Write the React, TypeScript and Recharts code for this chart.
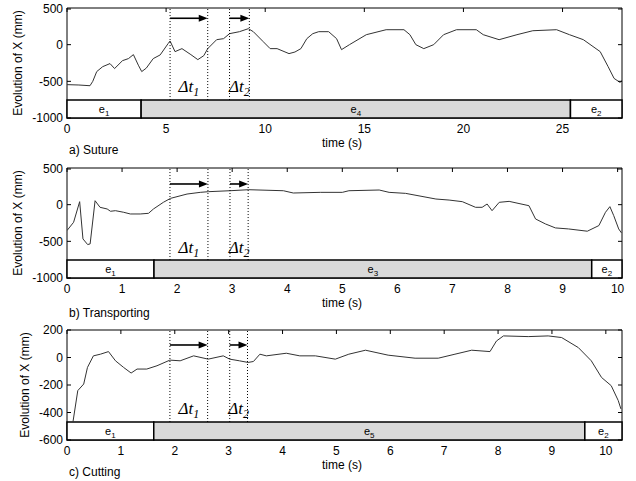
import { Line, LineChart, ReferenceArea, ReferenceDot, ReferenceLine, XAxis, YAxis } from "recharts";

// a) Suture
const timeA = [0, 0.6, 1.16, 1.3, 1.5, 1.8, 2.17, 2.4, 2.8, 3.1, 3.35, 3.6, 3.77, 4.0, 4.35, 4.7, 5.1, 5.2, 5.45, 5.8, 6.25, 6.6, 6.9, 7.1, 7.55, 7.9, 8.2, 8.7, 9.15, 9.4, 9.9, 10.25, 10.6, 11.2, 11.5, 11.8, 12.1, 12.4, 12.7, 13.2, 13.6, 13.85, 14.25, 15.1, 16.1, 17.0, 17.3, 17.6, 18.0, 18.5, 19.0, 19.65, 20.65, 21.0, 21.8, 22.7, 23.5, 24.7, 25.35, 26.05, 26.9, 27.3, 27.6, 27.9, 28];
const posA = [-545, -550, -560, -500, -367, -300, -258, -326, -218, -190, -136, -280, -367, -320, -190, -140, 14, 50, -95, -54, -136, -204, -150, -54, 68, 82, 150, 177, 218, 177, 41, -54, -54, -122, -100, -54, 82, 150, 177, 177, 82, -68, 0, 136, 204, 204, 136, 0, -54, 0, 136, 204, 204, 136, 68, 136, 190, 204, 136, 68, -95, -300, -460, -515, -490];
const phasesA = ["1", "4", "2"];
const phaseEdgesA = [0, 3.74, 25.4, 28];
const dtEdgesA = [5.2, 7.1, 8.2, 9.2];
const xTicksA = [0, 5, 10, 15, 20, 25];

// b) Transporting
const timeB = [0, 0.12, 0.23, 0.29, 0.375, 0.42, 0.51, 0.6, 0.73, 0.79, 0.88, 1.03, 1.15, 1.33, 1.48, 1.57, 1.75, 1.88, 2.18, 2.42, 2.57, 2.96, 3.3, 3.93, 4.11, 4.6, 5.0, 5.12, 5.67, 5.85, 6.15, 6.7, 6.94, 7.18, 7.42, 7.54, 7.63, 7.72, 7.85, 8.03, 8.39, 8.51, 8.69, 8.87, 9.11, 9.45, 9.66, 9.78, 9.86, 9.93, 10.02, 10.07];
const posB = [-353, -240, 41, -467, -544, -535, 54, -36, -59, -90, -82, -104, -127, -127, -118, -59, 32, 86, 145, 168, 177, 190, 204, 190, 159, 168, 168, 190, 200, 168, 154, 77, 63, 41, -36, -36, 9, -82, 32, 45, -14, -195, -263, -317, -331, -362, -285, -104, -27, -150, -331, -385];
const phasesB = ["1", "3", "2"];
const phaseEdgesB = [0, 1.58, 9.53, 10.08];
const dtEdgesB = [1.87, 2.56, 2.96, 3.29];
const xTicksB = [0, 1, 2, 3, 4, 5, 6, 7, 8, 9, 10];

// c) Cutting
const timeC = [0.11, 0.2, 0.31, 0.38, 0.49, 0.62, 0.77, 0.9, 1.05, 1.19, 1.3, 1.48, 1.67, 1.91, 2.1, 2.35, 2.62, 2.9, 3.02, 3.2, 3.36, 3.46, 3.58, 3.7, 4.07, 4.32, 4.61, 4.98, 5.23, 5.54, 5.96, 6.46, 6.89, 7.2, 7.51, 7.85, 7.97, 8.1, 8.56, 8.93, 9.18, 9.49, 9.73, 9.92, 10.1, 10.23, 10.28];
const posC = [-470, -241, -193, -72, 12, 24, 43, -24, -72, -113, -84, -84, -60, -19, -24, 12, -12, 12, -12, -24, -36, -29, 24, 12, 31, 12, 12, -12, 24, 53, 17, -5, -5, 24, 53, 43, 120, 157, 152, 157, 145, 72, -24, -145, -205, -313, -374];
const phasesC = ["1", "5", "2"];
const phaseEdgesC = [0, 1.61, 9.61, 10.3];
const dtEdgesC = [1.91, 2.61, 3.02, 3.35];
const xTicksC = [0, 1, 2, 3, 4, 5, 6, 7, 8, 9, 10];

const yTicksAB = [-1000, -500, 0, 500];
const yTicksC = [-600, -400, -200, 0, 200];

const FONT = "Arial, 'Liberation Sans', sans-serif";
const SERIF = "'Times New Roman', 'Liberation Serif', serif";
const PLOT_L = 67;
const PLOT_R = 622;

type PanelProps = {
  top: number;
  height: number;
  plotTop: number;
  time: number[];
  pos: number[];
  phases: string[];
  edges: number[];
  dt: number[];
  xTicks: number[];
  yTicks: number[];
  yDomain: [number, number];
  barTop: number;
  arrowY: number;
  labelY: number;
  title: string;
  titleGap: number;
  yLabelX: number;
};

function Panel(p: PanelProps) {
  const data = p.time.map((t, i) => ({ t, x: p.pos[i] }));
  const plotBottom = p.plotTop + 110;
  const xMax = p.edges[p.edges.length - 1];

  const yTick = (props: any) => (
    <g>
      <line x1={PLOT_L} x2={PLOT_L + 4} y1={props.y} y2={props.y} stroke="#000" />
      <line x1={PLOT_R - 4} x2={PLOT_R} y1={props.y} y2={props.y} stroke="#000" />
      <text x={props.x} y={props.y} dy="0.36em" textAnchor="end" fontSize={12} fontFamily={FONT} fill="#000">
        {props.payload.value}
      </text>
    </g>
  );
  const xTick = (props: any) => (
    <g>
      <line x1={props.x} x2={props.x} y1={p.plotTop} y2={p.plotTop + 4} stroke="#000" />
      <text x={props.x} y={props.y} dy="0.71em" textAnchor="middle" fontSize={12} fontFamily={FONT} fill="#000">
        {props.payload.value}
      </text>
    </g>
  );

  const arrow = (props: any) => (
    <g>
      <line x1={props.x1} y1={props.y1} x2={props.x2 - 7} y2={props.y2} stroke="#000" strokeWidth={1.6} />
      <polygon
        points={`${props.x2},${props.y2} ${props.x2 - 9},${props.y2 - 3.5} ${props.x2 - 9},${props.y2 + 3.5}`}
        fill="#000"
      />
    </g>
  );
  const dtLabel = (sub: string) => (props: any) => (
    <text x={props.cx} y={props.cy} dy="0.35em" textAnchor="middle" fontFamily={SERIF} fontStyle="italic" fontSize={17} fill="#000">
      Δt
      <tspan fontSize={12} dy={4}>{sub}</tspan>
    </text>
  );
  const phaseLabel = (sub: string) => (props: any) => {
    const vb = props.viewBox;
    return (
      <text x={vb.x + vb.width / 2} y={vb.y + vb.height / 2} dy="0.35em" textAnchor="middle" fontFamily={FONT} fontSize={11} fill="#000">
        e<tspan fontSize={8} dy={3}>{sub}</tspan>
      </text>
    );
  };

  const textStyle = {
    position: "absolute" as const,
    whiteSpace: "nowrap" as const,
    fontFamily: FONT,
    fontSize: 12,
    lineHeight: "14px",
  };

  return (
    <div style={{ position: "absolute", left: 0, top: p.top, width: 636, height: p.height }}>
      <LineChart
        width={636}
        height={p.height}
        data={data}
        margin={{ top: p.plotTop, right: 636 - PLOT_R, bottom: p.height - plotBottom - 30, left: 0 }}
      >
        <XAxis
          dataKey="t"
          type="number"
          domain={[0, xMax]}
          ticks={p.xTicks}
          allowDataOverflow
          height={30}
          tickSize={0}
          tickMargin={6}
          axisLine={false}
          tick={xTick}
        />
        <YAxis
          type="number"
          domain={p.yDomain}
          ticks={p.yTicks}
          allowDataOverflow
          width={PLOT_L}
          tickSize={0}
          tickMargin={4}
          axisLine={false}
          tick={yTick}
        />
        <ReferenceArea x1={0} x2={xMax} y1={p.yDomain[0]} y2={p.yDomain[1]} fill="none" stroke="#000" strokeWidth={1} />
        <Line type="linear" dataKey="x" stroke="#333" strokeWidth={1} dot={false} isAnimationActive={false} />
        {p.dt.map((x, i) => (
          <ReferenceLine
            key={"d" + i}
            segment={[{ x, y: p.barTop }, { x, y: p.yDomain[1] }]}
            stroke="#000"
            strokeDasharray="1 2"
            strokeWidth={1}
          />
        ))}
        {[0, 2].map((i) => (
          <ReferenceLine
            key={"a" + i}
            segment={[{ x: p.dt[i], y: p.arrowY }, { x: p.dt[i + 1], y: p.arrowY }]}
            shape={arrow}
          />
        ))}
        {[0, 2].map((i) => (
          <ReferenceDot
            key={"l" + i}
            x={(p.dt[i] + p.dt[i + 1]) / 2}
            y={p.labelY}
            r={0}
            shape={dtLabel(String(i / 2 + 1))}
          />
        ))}
        {p.phases.map((sub, i) => (
          <ReferenceArea
            key={"p" + i}
            x1={p.edges[i]}
            x2={p.edges[i + 1]}
            y1={p.yDomain[0]}
            y2={p.barTop}
            fill={i === 1 ? "#d9d9d9" : "#fff"}
            fillOpacity={1}
            stroke="#000"
            strokeWidth={1.5}
            label={phaseLabel(sub)}
          />
        ))}
      </LineChart>
      <div
        style={{
          ...textStyle,
          left: p.yLabelX,
          top: p.plotTop + 55,
          transform: "translate(-50%, -50%) rotate(-90deg)",
        }}
      >
        Evolution of X (mm)
      </div>
      <div style={{ ...textStyle, left: 342, top: plotBottom + 25, transform: "translate(-50%, -50%)" }}>
        time (s)
      </div>
      <div style={{ ...textStyle, left: 69, top: plotBottom + p.titleGap, transform: "translateY(-50%)" }}>
        {p.title}
      </div>
    </div>
  );
}

export default function App() {
  return (
    <div style={{ position: "absolute", left: 0, top: 0, width: 636, height: 481, background: "#fff" }}>
      <Panel
        top={0}
        height={160}
        plotTop={8}
        time={timeA}
        pos={posA}
        phases={phasesA}
        edges={phaseEdgesA}
        dt={dtEdgesA}
        xTicks={xTicksA}
        yTicks={yTicksAB}
        yDomain={[-1000, 500]}
        barTop={-755}
        arrowY={360}
        labelY={-560}
        title="a) Suture"
        titleGap={32}
        yLabelX={18}
      />
      <Panel
        top={160}
        height={160}
        plotTop={8}
        time={timeB}
        pos={posB}
        phases={phasesB}
        edges={phaseEdgesB}
        dt={dtEdgesB}
        xTicks={xTicksB}
        yTicks={yTicksAB}
        yDomain={[-1000, 500]}
        barTop={-755}
        arrowY={282}
        labelY={-577}
        title="b) Transporting"
        titleGap={35}
        yLabelX={18}
      />
      <Panel
        top={320}
        height={161}
        plotTop={10}
        time={timeC}
        pos={posC}
        phases={phasesC}
        edges={phaseEdgesC}
        dt={dtEdgesC}
        xTicks={xTicksC}
        yTicks={yTicksC}
        yDomain={[-600, 200]}
        barTop={-469}
        arrowY={91}
        labelY={-367}
        title="c) Cutting"
        titleGap={32}
        yLabelX={25}
      />
    </div>
  );
}
